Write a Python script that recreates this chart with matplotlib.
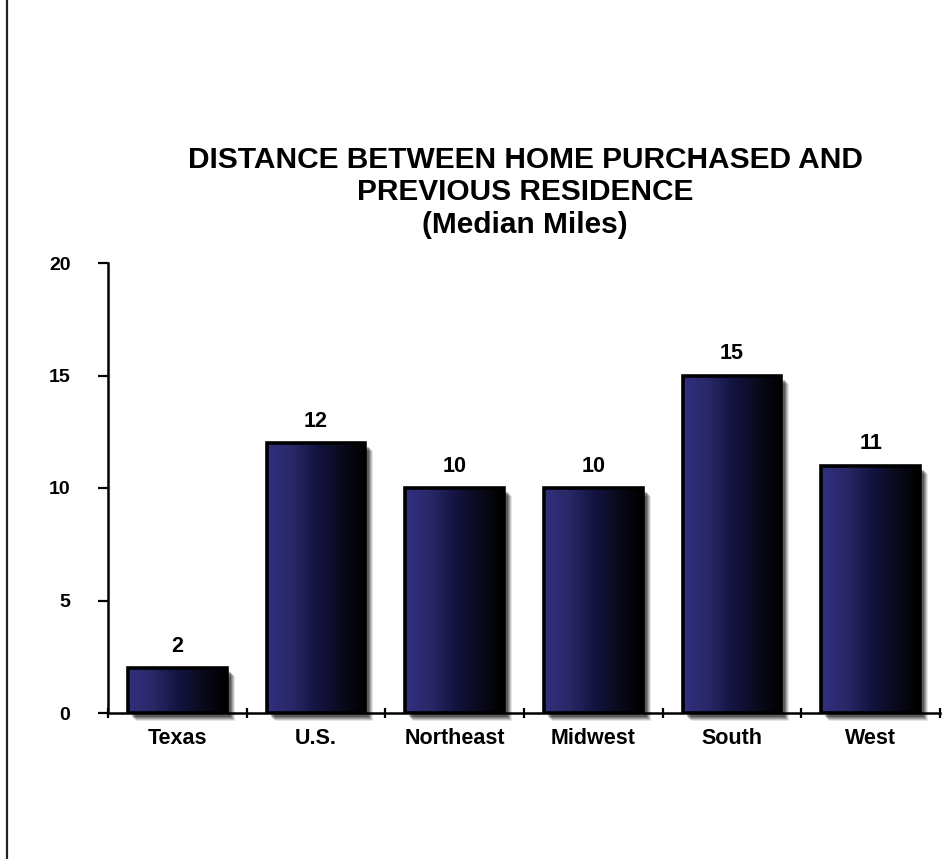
import numpy as np
import matplotlib
matplotlib.use("Agg")
import matplotlib.pyplot as plt
import matplotlib.transforms as mtransforms
from matplotlib.colors import LinearSegmentedColormap
from matplotlib.patches import Rectangle
from matplotlib.lines import Line2D

plt.rcParams["font.family"] = ["Liberation Sans", "DejaVu Sans"]
plt.rcParams["font.weight"] = "bold"

categories = ["Texas", "U.S.", "Northeast", "Midwest", "South", "West"]
miles = [2, 12, 10, 10, 15, 11]
yticks = [0, 5, 10, 15, 20]

BAR_W = 0.71
bar_cmap = LinearSegmentedColormap.from_list(
    "bar", ["#30307f", "#2a2868", "#141443", "#0a0a1c", "#000000"])

fig = plt.figure(figsize=(9.48, 8.59), dpi=100)
ax = fig.add_axes([108 / 948, 146 / 859, 832 / 948, 450 / 859])

# thin rule down the left edge of the page
fig.add_artist(Line2D([7 / 948, 7 / 948], [0, 1], transform=fig.transFigure,
                      color="#222222", linewidth=1.6))

grad = np.linspace(0, 1, 256).reshape(1, -1)
x = np.arange(len(categories))
for xi, v in zip(x, miles):
    x0 = xi - BAR_W / 2
    # soft drop shadow, offset right and down
    for k, a in [(8, 0.10), (7, 0.14), (6, 0.18), (5, 0.22), (4, 0.25)]:
        tr = mtransforms.offset_copy(ax.transData, fig=fig, x=k, y=-k, units="dots")
        ax.add_patch(Rectangle((x0, 0), BAR_W, v, transform=tr, facecolor="#000000",
                               alpha=a, edgecolor="none", zorder=1, clip_on=False))
    ax.imshow(grad, cmap=bar_cmap, aspect="auto", extent=(x0, x0 + BAR_W, 0, v),
              zorder=2, interpolation="bicubic")
    ax.add_patch(Rectangle((x0, 0), BAR_W, v, facecolor="none", edgecolor="black",
                           linewidth=2.6, zorder=3))
    ax.annotate(str(v), (xi, v), xytext=(0, 8), textcoords="offset points",
                ha="center", va="bottom", fontsize=15.5, fontweight="bold")

ax.set_xlim(-0.5, len(categories) - 0.5)
ax.set_ylim(0, 20)

ax.set_yticks(yticks)
ax.set_yticklabels([str(t) for t in yticks], fontsize=14, fontweight="bold")
ax.tick_params(axis="y", length=7, width=1.6, pad=20)

# category boundaries carry the x ticks; names sit between them
ax.set_xticks(np.arange(len(categories) + 1) - 0.5)
ax.set_xticklabels([])
ax.set_xticks(x, minor=True)
ax.set_xticklabels(categories, minor=True, fontsize=15.5, fontweight="bold")
ax.tick_params(axis="x", which="major", length=7, width=1.6, direction="inout")
ax.tick_params(axis="x", which="minor", length=0, pad=11)

for side in ["top", "right"]:
    ax.spines[side].set_visible(False)
for side in ["left", "bottom"]:
    ax.spines[side].set_linewidth(1.8)
    ax.spines[side].set_zorder(4)

fig.text(525 / 948, 1 - 146 / 859,
         "DISTANCE BETWEEN HOME PURCHASED AND\nPREVIOUS RESIDENCE\n(Median Miles)",
         ha="center", va="top", fontsize=21.5, fontweight="bold", linespacing=1.2)

fig.savefig("out.png", dpi=100)
